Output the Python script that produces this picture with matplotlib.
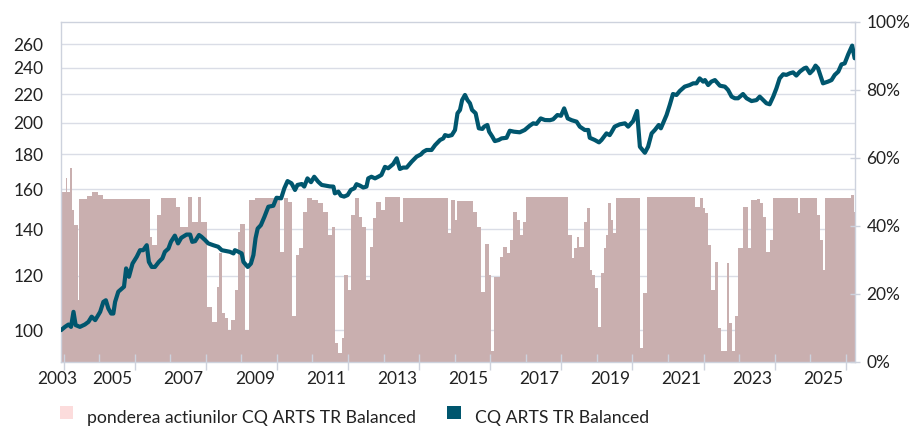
import matplotlib.pyplot as plt
from matplotlib.ticker import FixedLocator, NullLocator, FuncFormatter, NullFormatter
from matplotlib.patches import Rectangle

plt.rcParams['font.family'] = ['Lato', 'DejaVu Sans']

# fund value (left, log scale), decimal years as shown on the axis
line_years = [
    2002.93, 2003.04, 2003.14, 2003.21, 2003.28, 2003.34, 2003.46, 2003.60, 2003.70, 2003.79,
    2003.89, 2004.03, 2004.12, 2004.19, 2004.26, 2004.34, 2004.40, 2004.45, 2004.54, 2004.64,
    2004.70, 2004.76, 2004.84, 2004.94, 2005.06, 2005.15, 2005.24, 2005.34, 2005.40, 2005.48,
    2005.57, 2005.68, 2005.78, 2005.85, 2005.95, 2006.02, 2006.13, 2006.22, 2006.31, 2006.46,
    2006.56, 2006.62, 2006.70, 2006.81, 2006.88, 2006.98, 2007.07, 2007.21, 2007.35, 2007.45,
    2007.59, 2007.68, 2007.78, 2007.82, 2007.92, 2008.01, 2008.06, 2008.18, 2008.27, 2008.34,
    2008.40, 2008.46, 2008.55, 2008.65, 2008.76, 2008.90, 2008.99, 2009.12, 2009.21, 2009.30,
    2009.41, 2009.51, 2009.58, 2009.70, 2009.77, 2009.86, 2009.96, 2010.05, 2010.16, 2010.26,
    2010.37, 2010.49, 2010.59, 2010.63, 2010.73, 2010.80, 2010.89, 2010.99, 2011.08, 2011.18,
    2011.24, 2011.34, 2011.43, 2011.52, 2011.57, 2011.66, 2011.76, 2011.85, 2011.94, 2012.04,
    2012.13, 2012.27, 2012.37, 2012.46, 2012.55, 2012.65, 2012.79, 2012.93, 2013.05, 2013.12,
    2013.21, 2013.35, 2013.45, 2013.59, 2013.68, 2013.73, 2013.82, 2013.92, 2014.01, 2014.08,
    2014.15, 2014.21, 2014.29, 2014.36, 2014.43, 2014.49, 2014.59, 2014.68, 2014.78, 2014.83,
    2014.92, 2014.97, 2015.06, 2015.13, 2015.24, 2015.32, 2015.46, 2015.55, 2015.67, 2015.83,
    2015.97, 2016.11, 2016.21, 2016.30, 2016.42, 2016.54, 2016.68, 2016.77, 2016.89, 2016.99,
    2017.08, 2017.18, 2017.29, 2017.43, 2017.52, 2017.66, 2017.76, 2017.80, 2017.94, 2018.06,
    2018.13, 2018.27, 2018.36, 2018.41, 2018.50, 2018.64, 2018.79, 2018.88, 2019.02, 2019.13,
    2019.21, 2019.35, 2019.44, 2019.54, 2019.63, 2019.74, 2019.80, 2019.86, 2019.96, 2020.05,
    2020.14, 2020.24, 2020.33, 2020.47, 2020.61, 2020.71, 2020.80, 2020.89, 2020.99, 2021.04,
    2021.13, 2021.22, 2021.32, 2021.46, 2021.60, 2021.69, 2021.79, 2021.88, 2021.97, 2022.11,
    2022.21, 2022.35, 2022.49, 2022.58, 2022.68, 2022.77, 2022.86, 2022.96, 2023.05, 2023.14,
    2023.24, 2023.33, 2023.43, 2023.52, 2023.61, 2023.71, 2023.83, 2023.89, 2023.99, 2024.08,
    2024.15, 2024.22, 2024.36, 2024.50, 2024.60, 2024.69, 2024.79, 2024.88, 2024.97, 2025.07,
    2025.18, 2025.25,
]
line_values = [
    100.0, 101.1, 101.9, 101.1, 106.3, 101.7, 101.1, 101.9, 102.8, 104.6,
    103.4, 106.3, 109.9, 110.5, 107.5, 105.7, 105.7, 109.9, 113.7, 114.9,
    115.6, 122.9, 119.5, 124.9, 127.8, 130.6, 130.6, 132.8, 125.6, 123.5,
    123.5, 125.6, 127.1, 129.9, 131.3, 134.3, 137.1, 133.6, 136.1, 137.6,
    137.6, 134.3, 134.6, 137.4, 136.6, 135.1, 133.6, 132.8, 132.1, 130.6,
    130.2, 129.9, 129.2, 130.6, 129.9, 129.2, 125.6, 123.5, 124.9, 128.5,
    135.9, 140.4, 142.0, 146.0, 151.0, 151.5, 155.6, 155.3, 160.6, 164.5,
    163.3, 159.7, 162.4, 162.9, 161.5, 166.0, 163.9, 166.9, 164.2, 162.4,
    162.0, 161.6, 161.5, 157.9, 158.8, 156.7, 156.2, 157.0, 159.7, 160.6,
    162.8, 162.0, 161.0, 161.5, 166.0, 166.9, 166.0, 166.9, 167.9, 172.5,
    171.7, 174.1, 177.5, 171.3, 172.1, 172.1, 175.5, 178.5, 179.8, 181.4,
    182.5, 182.5, 185.5, 188.7, 189.7, 191.8, 191.2, 191.8, 195.1, 206.3,
    208.6, 215.6, 219.3, 215.6, 213.3, 208.6, 206.3, 196.2, 195.8, 197.3,
    198.4, 194.0, 190.8, 188.0, 188.7, 189.7, 190.1, 194.6, 194.0, 193.6,
    195.1, 197.9, 199.5, 199.1, 202.8, 201.7, 201.6, 202.2, 205.1, 204.6,
    209.7, 202.8, 201.6, 200.6, 197.3, 195.1, 195.1, 190.1, 188.7, 187.2,
    188.7, 192.9, 191.8, 193.6, 197.3, 198.8, 199.5, 197.3, 201.0, 207.9,
    184.5, 180.8, 184.5, 192.9, 195.1, 198.4, 196.2, 199.5, 205.1, 212.1,
    220.0, 219.3, 222.2, 225.5, 226.7, 228.0, 228.0, 231.8, 229.3, 230.5,
    226.7, 229.3, 230.5, 226.2, 225.5, 223.0, 218.1, 216.9, 216.9, 220.0,
    216.9, 214.9, 215.6, 218.1, 215.6, 213.3, 212.6, 218.1, 224.2, 231.8,
    235.0, 234.5, 235.8, 236.5, 234.0, 237.1, 239.7, 240.3, 235.8, 238.4,
    241.9, 239.7, 228.0, 229.3, 230.5, 234.5, 237.1, 242.9, 243.7, 251.2,
    258.6, 247.9,
]

# equity weight (right axis, %), each value holds from its start until the next start
bar_start = [
    2002.92, 2003.07, 2003.10, 2003.18, 2003.23, 2003.30, 2003.40, 2003.44, 2003.65, 2003.79,
    2003.96, 2004.12, 2005.43, 2005.50, 2005.62, 2005.74, 2006.15, 2006.28, 2006.51, 2006.60,
    2006.77, 2006.87, 2007.03, 2007.17, 2007.31, 2007.37, 2007.45, 2007.54, 2007.63, 2007.71,
    2007.82, 2007.90, 2007.96, 2008.10, 2008.22, 2008.38, 2009.09, 2009.21, 2009.32, 2009.43,
    2009.53, 2009.62, 2009.74, 2009.84, 2009.98, 2010.16, 2010.31, 2010.43, 2010.54, 2010.63,
    2010.73, 2010.82, 2010.90, 2010.99, 2011.08, 2011.20, 2011.31, 2011.39, 2011.52, 2011.62,
    2011.71, 2011.80, 2011.94, 2012.04, 2012.46, 2012.55, 2013.82, 2013.90, 2014.01, 2014.08,
    2014.52, 2014.64, 2014.74, 2014.85, 2014.97, 2015.02, 2015.11, 2015.27, 2015.37, 2015.46,
    2015.55, 2015.65, 2015.74, 2015.83, 2015.93, 2016.02, 2017.19, 2017.29, 2017.36, 2017.43,
    2017.49, 2017.64, 2017.71, 2017.80, 2017.87, 2017.94, 2018.02, 2018.11, 2018.21, 2018.27,
    2018.32, 2018.39, 2018.46, 2018.55, 2019.21, 2019.30, 2019.40, 2020.76, 2020.90, 2020.99,
    2021.04, 2021.13, 2021.22, 2021.32, 2021.41, 2021.50, 2021.65, 2021.71, 2021.79, 2021.88,
    2021.97, 2022.11, 2022.25, 2022.33, 2022.49, 2022.58, 2022.68, 2022.77, 2022.86, 2022.96,
    2023.66, 2023.71, 2024.18, 2024.27, 2024.36, 2024.43, 2025.16, 2025.24,
]
bar_share = [
    50.0, 54.0, 50.0, 57.0, 44.6, 40.2, 18.2, 48.0, 48.8, 49.8,
    49.0, 48.0, 36.8, 34.3, 43.1, 48.2, 45.6, 39.7, 48.5, 41.2,
    48.5, 41.2, 16.2, 11.6, 22.0, 31.9, 14.2, 12.8, 9.3, 12.3,
    21.1, 38.2, 40.4, 9.3, 47.6, 48.2, 32.4, 48.2, 47.0, 13.3,
    31.4, 33.4, 44.1, 48.2, 47.6, 46.6, 44.1, 37.3, 39.7, 5.4,
    2.5, 6.9, 25.5, 21.1, 43.1, 48.2, 42.7, 39.7, 24.0, 33.8,
    42.4, 47.0, 44.6, 48.3, 41.2, 48.2, 37.8, 47.6, 41.7, 47.3,
    44.1, 39.7, 20.6, 34.5, 25.5, 3.0, 25.0, 30.9, 33.8, 31.9,
    35.8, 44.1, 41.7, 37.3, 41.2, 48.3, 37.3, 30.4, 33.3, 36.8,
    33.8, 41.2, 45.3, 27.0, 25.5, 21.6, 10.3, 26.0, 33.3, 37.3,
    46.6, 41.7, 37.8, 48.2, 3.9, 20.1, 48.3, 45.6, 48.2, 45.1,
    43.6, 34.3, 21.1, 29.4, 9.8, 3.0, 28.9, 11.3, 3.0, 13.3,
    33.3, 45.6, 33.3, 47.6, 48.0, 46.6, 42.7, 32.4, 35.8, 48.2,
    43.6, 48.2, 43.1, 35.8, 27.0, 48.2, 49.0, 44.1,
]
x_end = 2025.26

value_ticks = [100, 120, 140, 160, 180, 200, 220, 240, 260]
share_ticks = [0, 20, 40, 60, 80, 100]
label_years = list(range(2003, 2026, 2))
legend_labels = ['ponderea actiunilor CQ ARTS TR Balanced', 'CQ ARTS TR Balanced']

bar_color = '#c9afaf'
line_color = '#00566e'
legend_pink = '#fcdcdc'
grid_color = '#dadde6'
axis_color = '#cdd2dd'
text_color = '#222222'

fig = plt.figure(figsize=(9.12, 4.28), dpi=100)
ax = fig.add_axes([60.7 / 912, 1 - 361.7 / 428, (855 - 60.7) / 912, 340 / 428])
ax2 = ax.twinx()

# left axis: log scale with grid, drawn underneath the bars
ax.set_yscale('log')
ax.set_ylim(90.0, 280.1)
ax.yaxis.set_major_locator(FixedLocator(value_ticks))
ax.yaxis.set_minor_locator(NullLocator())
ax.yaxis.set_major_formatter(FuncFormatter(lambda v, p: f'{v:.0f}'))
ax.yaxis.set_minor_formatter(NullFormatter())
ax.grid(axis='y', color=grid_color, lw=1.0)
ax.tick_params(axis='y', length=0, pad=12.5, labelsize=12.5, labelcolor=text_color)
ax.tick_params(axis='x', which='both', length=0, labelbottom=False)
for s in ax.spines.values():
    s.set_visible(False)

# bars (step fill) and the line on top, line uses the left log scale
bx = bar_start + [x_end]
by = bar_share + [bar_share[-1]]
ax2.fill_between(bx, by, step='post', color=bar_color, lw=0, zorder=1)
ax2.plot(line_years, line_values, transform=ax.transData, color=line_color,
         lw=3, solid_joinstyle='round', solid_capstyle='round', zorder=3)
ax2.set_ylim(0, 100)
ax2.set_xlim(2002.92, x_end)
ax2.yaxis.set_major_locator(FixedLocator(share_ticks))
ax2.yaxis.set_major_formatter(FuncFormatter(lambda v, p: f'{v:.0f}%'))
ax2.tick_params(axis='y', direction='inout', length=6.5, width=1, color=axis_color,
                pad=5, labelsize=12.5, labelcolor=text_color)

ax2.xaxis.set_visible(True)
ax2.set_xticks(list(range(2003, 2026, 2)))
ax2.set_xticks(list(range(2004, 2026, 2)), minor=True)
ax2.tick_params(axis='x', which='major', direction='inout', length=12.2, width=1,
                color=axis_color, labelbottom=False)
ax2.tick_params(axis='x', which='minor', direction='in', length=5.8, width=1,
                color=axis_color, labelbottom=False)
for s in ax2.spines.values():
    s.set_color(axis_color)
    s.set_linewidth(1.0)

# year labels sit left of their tick, first one pulled inside the figure
for i, yr in enumerate(label_years):
    xpos = yr - 0.62 if i > 0 else 2002.83
    ax2.text(xpos, -0.051, str(yr), transform=ax2.get_xaxis_transform(),
             ha='center', va='center', fontsize=12.5, color=text_color)

# legend along the bottom edge
fig.add_artist(Rectangle((60 / 912, 9 / 428), 13 / 912, 13 / 428,
                         transform=fig.transFigure, color=legend_pink, lw=0))
fig.add_artist(Rectangle((447 / 912, 9 / 428), 14 / 912, 13 / 428,
                         transform=fig.transFigure, color=line_color, lw=0))
fig.text(87 / 912, 4.5 / 428, legend_labels[0], ha='left', va='baseline',
         fontsize=12.7, color=text_color)
fig.text(475 / 912, 4.5 / 428, legend_labels[1], ha='left', va='baseline',
         fontsize=12.7, color=text_color)

fig.savefig('out.png', dpi=100)
